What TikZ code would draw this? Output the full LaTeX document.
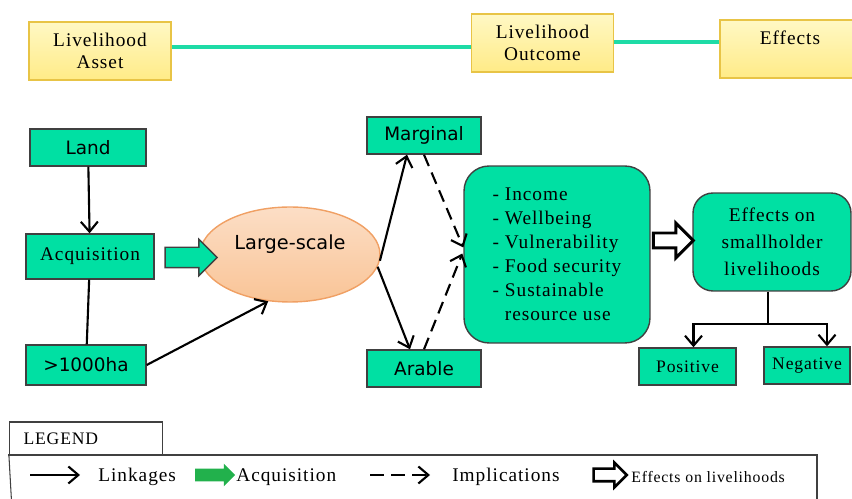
\documentclass[tikz,border=0pt]{standalone}
\usepackage{fontspec}
\setmainfont{Liberation Serif}
\newfontfamily\flowsans{DejaVu Sans}
\newfontfamily\flowserif[LetterSpace=5]{Liberation Serif}
\usepackage{tikz}
\usetikzlibrary{shapes.geometric, shapes.arrows, arrows.meta, positioning, calc}
\definecolor{boxgreen}{RGB}{0,224,163}
\definecolor{boxline}{RGB}{64,64,64}
\definecolor{linkteal}{RGB}{30,219,166}
\definecolor{assettop}{RGB}{255,248,196}
\definecolor{assetbottom}{RGB}{255,235,135}
\definecolor{assetline}{RGB}{232,196,70}
\definecolor{peachtop}{RGB}{252,222,198}
\definecolor{peachbottom}{RGB}{249,196,150}
\definecolor{peachline}{RGB}{240,160,100}
\definecolor{legendgreen}{RGB}{34,177,76}
\tikzstyle{arrow} = [line width=1.2pt, ->, >={Straight Barb[length=2mm, width=3.4mm]}]

\begin{document}
\begin{tikzpicture}[
  x=0.02cm, y=-0.02cm,
  asset/.style={rectangle, draw=assetline, line width=0.8pt, top color=assettop, bottom color=assetbottom, minimum width=2.84cm, minimum height=1.16cm, align=center, font=\flowserif\fontsize{11}{12.5}\selectfont},
  stage/.style={rectangle, draw=boxline, line width=0.8pt, fill=boxgreen, minimum height=0.74cm, font=\flowsans\fontsize{10.5}{12}\selectfont},
  result/.style={rectangle, draw=boxline, line width=0.8pt, fill=boxgreen, minimum height=0.74cm, font=\flowserif\fontsize{10}{12}\selectfont},
  panel/.style={rectangle, draw=boxline, line width=0.8pt, fill=boxgreen, align=left, font=\flowserif\fontsize{11}{13.6}\selectfont},
  legtext/.style={anchor=west, inner sep=0pt, font=\flowserif\fontsize{11}{12}\selectfont},
  link/.style={draw=linkteal, line width=2.3pt},
  implies/.style={arrow, dash pattern=on 7pt off 4pt}
]
\useasboundingbox (0,0) rectangle (852,499);

% Livelihood framework header
\node[asset] (asset) at (100,51) {Livelihood\\Asset};
\node[asset] (outcome) at (542.5,43) {Livelihood\\Outcome};
\node[asset, minimum width=2.8cm] (effects) at (790,49) {Effects\\\mbox{}};
\draw[link] ($(asset.east)+(0,-4)$) -- ($(outcome.west)+(0,4)$);
\draw[link] ($(outcome.east)+(0,-1)$) -- ($(outcome.east -| effects.west)+(0,-1)$);

% Land acquisition
\node[stage, minimum width=2.32cm] (land) at (88,147.5) {Land};
\node[stage, minimum width=2.56cm, minimum height=0.9cm, font=\flowserif\fontsize{11}{12}\selectfont] (acq) at (90,256.5) {Acquisition};
\node[stage, minimum width=2.4cm, minimum height=0.8cm] (ha) at (86,365) {>1000ha};
\node[ellipse, draw=peachline, line width=0.8pt, top color=peachtop, bottom color=peachbottom, minimum width=3.6cm, minimum height=1.9cm, align=center, font=\flowsans\fontsize{11}{14}\selectfont] (ls) at (290,254.5) {Large-scale\\\mbox{}};
\node[single arrow, draw=boxline, line width=0.8pt, fill=boxgreen, inner xsep=0pt, inner ysep=0.19cm, single arrow head extend=0.16cm, minimum height=1.04cm] (acqarr) at (186,257.5) {};

\draw[arrow] (land) -- (acq);
\draw[line width=1.2pt] (acq) -- (ha);
\draw[arrow] (ha.east) -- (ls.-115);

% Land types
\node[stage, minimum width=2.28cm] (marg) at (424,135.5) {Marginal};
\node[stage, minimum width=2.28cm] (arable) at (424,368.5) {Arable};
\draw[arrow] (ls.-4) -- ($(marg.south)+(-17,0)$);
\draw[arrow] (ls.-8) -- ($(arable.north)+(-14,0)$);

% Livelihood outcomes
\node[panel, rounded corners=0.5cm, minimum width=3.72cm, minimum height=3.54cm] (outc) at (557,254.5) {- Income\\- Wellbeing\\- Vulnerability\\- Food security\\- Sustainable\\\phantom{- }resource use};
\draw[implies] (marg.south) -- ($(outc.west)+(0,-7)$);
\draw[implies] (arable.north) -- ($(outc.west)+(-1,-1)$);

% Effects on smallholders
\node[panel, rounded corners=0.4cm, minimum width=3.16cm, minimum height=1.96cm, align=center, font=\flowserif\fontsize{11}{15.3}\selectfont] (eff) at (772,242) {Effects on\\smallholder\\livelihoods};
\node[single arrow, draw=black, line width=1.7pt, fill=white, inner xsep=0pt, inner ysep=0.12cm, single arrow head extend=0.2cm, minimum height=0.8cm] (effarr) at (669.5,240.5) {};
\node[result, minimum width=1.94cm] (pos) at (687.5,366.5) {Positive};
\node[result, minimum width=1.72cm] (neg) at (807,365.5) {Negative};
\coordinate (split) at ($(eff.south)+(-4,32)$);
\draw[line width=1.2pt] ($(eff.south)+(-4,0)$) -- (split);
\draw[arrow] (split) -| ($(pos.north)+(6,0)$);
\draw[arrow] (split) -| ($(neg.north)+(20,0)$);

% Legend
\node[rectangle, draw=boxline, line width=0.6pt, minimum width=2.96cm, minimum height=0.66cm, inner xsep=8pt, text width=2.5cm, align=left, font=\flowserif\fontsize{10}{12}\selectfont] (legend) at (86,438.5) {LEGEND};
\draw[boxline, line width=0.6pt] (legend.south west) |- (817,455) -- (817,510);
\draw[boxline, line width=0.6pt] (legend.south west) -- (12,510);
\coordinate (linkA) at (30,475);
\coordinate (linkB) at (80,475);
\draw[arrow] (linkA) -- (linkB);
\node[legtext] (linktxt) at (98,477) {Linkages};
\node[single arrow, fill=legendgreen, inner xsep=0pt, inner ysep=0.12cm, single arrow head extend=0.1cm, minimum height=0.8cm] (legacq) at (212,475) {};
\node[legtext] (acqtxt) at (236,477) {Acquisition};
\coordinate (impA) at (370,475);
\coordinate (impB) at (430,475);
\draw[implies, dash pattern=on 8pt off 4pt] (impA) -- (impB);
\node[legtext] (imptxt) at (452,477) {Implications};
\node[single arrow, draw=black, line width=1.5pt, fill=white, inner xsep=0pt, inner ysep=0.1cm, single arrow head extend=0.12cm, minimum height=0.66cm] (legeff) at (607,475) {};
\node[legtext, font=\flowserif\fontsize{9}{11}\selectfont] (efftxt) at (631,477) {Effects on livelihoods};

\end{tikzpicture}
\end{document}
